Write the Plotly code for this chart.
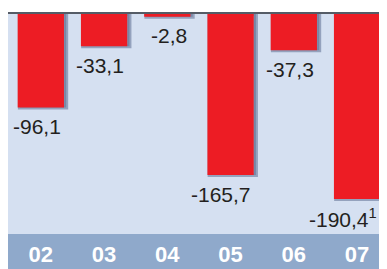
import plotly.graph_objects as go

years = ["02", "03", "04", "05", "06", "07"]
values = [-96.1, -33.1, -2.8, -165.7, -37.3, -190.4]
labels = ["-96,1", "-33,1", "-2,8", "-165,7", "-37,3", "-190,4<sup>1</sup>"]

RED = "#ed1c24"
BG = "#d5e0f1"
BAND = "#8fa9cb"
SHADOW = "rgba(95,112,145,0.55)"

W = 0.732
fig = go.Figure()
# shadow
fig.add_trace(go.Bar(x=years, y=values, width=W, offset=-W/2 + 0.035,
                     marker=dict(color=SHADOW, line=dict(color=SHADOW, width=4)),
                     hoverinfo="skip", showlegend=False))
fig.add_trace(go.Bar(x=years, y=values, width=W, offset=-W/2,
                     marker=dict(color=RED, line=dict(width=0)),
                     showlegend=False))
for i, (v, t) in enumerate(zip(values, labels)):
    fig.add_annotation(x=i, y=v, text=t, showarrow=False, yanchor="middle",
                       xanchor="right", yshift=-19, xshift=22,
                       font=dict(family="Liberation Sans, Arial", size=21, color="#231f20"))

fig.add_shape(type="rect", xref="paper", yref="paper", x0=0, x1=1, y0=-35/221, y1=0,
              fillcolor=BAND, line=dict(width=0), layer="below")
fig.add_shape(type="line", xref="paper", yref="paper", x0=0, x1=1, y0=1, y1=1,
              line=dict(color="#555c66", width=2))

# page body has an 8px margin; figure is sized to fill the rest of the window
fig.update_layout(
    width=379, height=261,
    margin=dict(l=0, r=0, t=5, b=35),
    paper_bgcolor="white", plot_bgcolor=BG,
    barmode="overlay",
    xaxis=dict(type="category", range=[-0.519, 5.473], showgrid=False, zeroline=False,
               showline=False, ticks="outside", ticklen=1, tickcolor="rgba(0,0,0,0)",
               tickfont=dict(family="Liberation Sans, Arial", size=22, color="white"),
               fixedrange=True),
    yaxis=dict(range=[-226.3, 1.03], showgrid=False, zeroline=False, showticklabels=False,
               showline=False, fixedrange=True),
    font=dict(family="Liberation Sans, Arial"),
)
fig.update_xaxes(tickprefix="<b>", ticksuffix="</b>")
fig.write_html("out.html")
